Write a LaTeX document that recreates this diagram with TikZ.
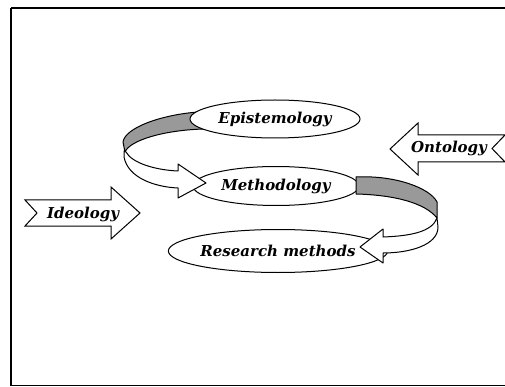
\documentclass[tikz,border=0pt]{standalone}
\usepackage{fontspec}
\setmainfont{DejaVu Serif}
\usetikzlibrary{shapes.geometric}
\begin{document}
\begin{tikzpicture}[x=1pt,y=-1pt,
  lbl/.style={font=\fontsize{15}{17}\selectfont\bfseries\itshape, inner sep=0pt},
  oval/.style={ellipse, draw, line width=1pt, fill=white, lbl},
  band/.style={draw, line width=1pt, line join=round},
  back/.style={band, fill=black!40},
  front/.style={band, fill=white},
  block/.style={draw, line width=1pt, fill=white, line join=miter}]
\useasboundingbox (0,0) rectangle (505,387);
% frame
\draw[line width=1.8pt] (11,386) -- (11,8);
\draw[line width=1.3pt] (11,8) -- (505,8);
\draw[line width=1pt] (11,385) -- (505,385);

% inner face of the upper ribbon
\draw[back] (123,142) .. controls (125,128) and (160,115) .. (198,112)
  -- (204,129) .. controls (165,130) and (130,140) .. (125,152) -- cycle;
\node[oval, minimum width=170pt, minimum height=38pt] (epi) at (275,119) {Epistemology};
\node[oval, minimum width=166pt, minimum height=39pt] (meth) at (276,186) {Methodology};
% inner face of the lower ribbon
\draw[back] (356,177) .. controls (395,175) and (430,188) .. (437,202)
  -- (437,218) .. controls (425,203) and (395,195) .. (356,194) -- cycle;
\node[oval, minimum width=168pt, minimum height=43pt] (res) at (278,251) {Research methods};

% outer face of the upper ribbon, ending in its arrow head
\draw[front] (124,151) -- (124,157) .. controls (128,178) and (155,187) .. (178,188)
  -- (178,198) -- (206,183) -- (178,164) -- (178,171)
  .. controls (155,170) and (132,163) .. (126,152) -- cycle;
% outer face of the lower ribbon, ending in its arrow head
\draw[front] (437,218) -- (438,227) .. controls (438,245) and (410,253) .. (383,253)
  -- (383,263) -- (360,247) -- (383,229) -- (383,237)
  .. controls (410,236) and (432,232) .. (437,218) -- cycle;

% side arrows
\draw[block] (25,200) -- (111,200) -- (111,187) -- (140,213) -- (111,239)
  -- (111,226) -- (25,226) -- (37,213) -- cycle;
\node[lbl] (ideo) at (83,214) {Ideology};
\draw[block] (505,135) -- (418,135) -- (418,123) -- (390,149) -- (418,175)
  -- (418,162) -- (505,162) -- (492,148.5) -- cycle;
\node[lbl] (onto) at (449,148) {Ontology};
\end{tikzpicture}
\end{document}
